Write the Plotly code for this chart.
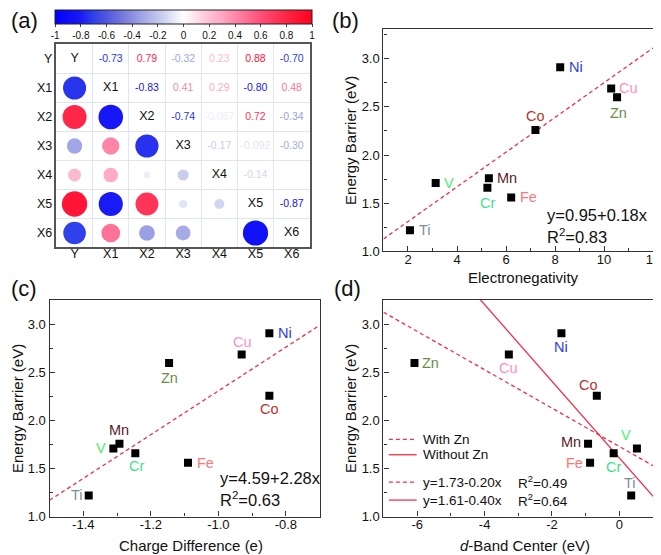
import numpy as np
import plotly.graph_objects as go

# ---------------- data ----------------
corr_labels = ['Y', 'X1', 'X2', 'X3', 'X4', 'X5', 'X6']
corr_Y = [1.00, -0.73, 0.79, -0.32, 0.23, 0.88, -0.70]
corr_X1 = [-0.73, 1.00, -0.83, 0.41, 0.29, -0.80, 0.48]
corr_X2 = [0.79, -0.83, 1.00, -0.74, -0.057, 0.72, -0.34]
corr_X3 = [-0.32, 0.41, -0.74, 1.00, -0.17, -0.092, -0.30]
corr_X4 = [0.23, 0.29, -0.057, -0.17, 1.00, -0.14, 0.0]
corr_X5 = [0.88, -0.80, 0.72, -0.092, -0.14, 1.00, -0.87]
corr_X6 = [-0.70, 0.48, -0.34, -0.30, 0.0, -0.87, 1.00]
colorbar_ticks = [-1, -0.8, -0.6, -0.4, -0.2, 0, 0.2, 0.4, 0.6, 0.8, 1]

elements = ['Ti', 'V', 'Cr', 'Mn', 'Fe', 'Co', 'Ni', 'Cu', 'Zn']
energy_barrier = [1.22, 1.71, 1.66, 1.76, 1.56, 2.26, 2.91, 2.69, 2.60]
electronegativity = [2.08, 3.13, 5.24, 5.30, 6.21, 7.20, 8.21, 10.29, 10.53]
charge_difference = [-1.384, -1.311, -1.246, -1.293, -1.09, -0.849, -0.849, -0.931, -1.146]
d_band_center = [0.35, 0.52, -0.17, -0.93, -0.87, -0.67, -1.72, -3.28, -6.08]

fit_b = (0.95, 0.18, 0.83)
fit_c = (4.59, 2.28, 0.63)
fit_d_with_zn = (1.73, -0.20, 0.49)
fit_d_without_zn = (1.61, -0.40, 0.64)

# ---------------- style ----------------
FONT = 'Liberation Sans, Arial, sans-serif'
W, H = 661, 555
elem_colors = {'Ti': '#7d8b9c', 'V': '#4ced70', 'Cr': '#3fdf8c', 'Mn': '#5a1a2a',
               'Fe': '#f87a7a', 'Co': '#b8342a', 'Ni': '#2b3fe0', 'Cu': '#ff8fc2',
               'Zn': '#6b8c4c'}
colorscale = [[0.0, '#0000ff'], [0.1, '#1a1af5'], [0.15, '#3040ea'], [0.25, '#7070d8'],
              [0.34, '#a0a6e6'], [0.42, '#cdd0ee'], [0.5, '#ffffff'], [0.6, '#ffc0d4'],
              [0.65, '#ffa8c4'], [0.7, '#ff88aa'], [0.8, '#ff5078'], [0.9, '#ff2444'],
              [1.0, '#ff0020']]
red = '#f0304a'
INK = '#111'

# label offsets (px, +x right, +y down)
off_b = {'Ti': (15, 0), 'V': (13, 0), 'Cr': (0, 15), 'Mn': (18, 0), 'Fe': (17, 0),
         'Co': (0, -14), 'Ni': (16, 0), 'Cu': (17, 0), 'Zn': (1, 16)}
off_c = {'Ti': (-12, 0), 'V': (-12, 0), 'Cr': (1, 13), 'Mn': (0, -14), 'Fe': (18, 0),
         'Co': (0, 13), 'Ni': (16, 0), 'Cu': (1, -12), 'Zn': (0, 15)}
off_d = {'Ti': (-1, -12), 'V': (-11, -13), 'Cr': (0, 14), 'Mn': (-17, -2), 'Fe': (-16, 0),
         'Co': (-8, -11), 'Ni': (0, 14), 'Cu': (0, 14), 'Zn': (16, 0)}


def hex2rgb(h):
    h = h.lstrip('#')
    return [int(h[i:i + 2], 16) for i in (0, 2, 4)]


def cmap(v):
    t = (v + 1) / 2
    for (t0, c0), (t1, c1) in zip(colorscale[:-1], colorscale[1:]):
        if t0 <= t <= t1:
            f = (t - t0) / (t1 - t0) if t1 > t0 else 0
            a, b = hex2rgb(c0), hex2rgb(c1)
            return 'rgb(%d,%d,%d)' % tuple(round(a[i] + f * (b[i] - a[i])) for i in range(3))
    return colorscale[-1][1]


def fmt(v):
    s = ('%.3f' % v).rstrip('0')
    if len(s.split('.')[1]) < 2:
        s = '%.2f' % v
    return s


fig = go.Figure()

# ---------------- panel (a) ----------------
corr = [corr_Y, corr_X1, corr_X2, corr_X3, corr_X4, corr_X5, corr_X6]
n = len(corr_labels)
cx, cy, cval, csize = [], [], [], []
tx, ty, tt, tcol = [], [], [], []
dx, dy, dt = [], [], []
for i in range(n):
    for j in range(n):
        v = corr[i][j]
        if i > j:
            cx.append(j); cy.append(i); cval.append(v); csize.append(27 * np.sqrt(abs(v)))
        elif i < j:
            if abs(v) >= 0.02:
                tx.append(j); ty.append(i); tt.append(fmt(v)); tcol.append(cmap(v))
        else:
            dx.append(j); dy.append(i); dt.append(corr_labels[i])

fig.add_trace(go.Scatter(
    x=cx, y=cy, mode='markers', xaxis='x', yaxis='y', showlegend=False, hoverinfo='skip',
    marker=dict(size=csize, color=cval, colorscale=colorscale, cmin=-1, cmax=1,
                opacity=1, line=dict(width=0),
                colorbar=dict(orientation='h', x=177.5 / W, xanchor='center',
                              y=1 - 35 / H, yanchor='bottom', thickness=14,
                              len=257, lenmode='pixels', xpad=0, ypad=0,
                              outlinewidth=1, outlinecolor='#222',
                              tickvals=colorbar_ticks,
                              ticktext=['%g' % t for t in colorbar_ticks],
                              ticklabelposition='outside top', ticks='outside', ticklen=3,
                              tickfont=dict(size=10, family=FONT, color=INK)))))
fig.add_trace(go.Scatter(x=tx, y=ty, text=tt, mode='text', xaxis='x', yaxis='y',
                         showlegend=False, hoverinfo='skip',
                         textfont=dict(size=10.5, family=FONT, color=tcol)))
fig.add_trace(go.Scatter(x=dx, y=dy, text=dt, mode='text', xaxis='x', yaxis='y',
                         showlegend=False, hoverinfo='skip',
                         textfont=dict(size=12.5, family=FONT, color=INK)))


# ---------------- scatter panels ----------------
def add_panel(xv, xa, ya, offs):
    fig.add_trace(go.Scatter(x=xv, y=energy_barrier, mode='markers', xaxis=xa, yaxis=ya,
                             showlegend=False, hoverinfo='skip',
                             marker=dict(symbol='square', size=8, color='black')))
    for e, x, y in zip(elements, xv, energy_barrier):
        ox, oy = offs[e]
        fig.add_annotation(x=x, y=y, xref=xa, yref=ya, text=e, showarrow=False,
                           xshift=ox, yshift=-oy,
                           font=dict(size=14.5, family=FONT, color=elem_colors[e]))


def add_fit(fit, xa, ya, xr, dash):
    a, b = fit[0], fit[1]
    xs = [xr[0], xr[1]]
    fig.add_trace(go.Scatter(x=xs, y=[a + b * x for x in xs], mode='lines', xaxis=xa,
                             yaxis=ya, showlegend=False, hoverinfo='skip',
                             line=dict(color=red, width=1.3, dash=dash)))


xr_b, xr_c, xr_d = [1, 12], [-1.5, -0.7], [-7, 1]
add_fit(fit_b, 'x2', 'y2', xr_b, '4px,3px')
add_fit(fit_c, 'x3', 'y3', xr_c, '4px,3px')
add_fit(fit_d_with_zn, 'x4', 'y4', xr_d, '4px,3px')
add_fit(fit_d_without_zn, 'x4', 'y4', xr_d, 'solid')
add_panel(electronegativity, 'x2', 'y2', off_b)
add_panel(charge_difference, 'x3', 'y3', off_c)
add_panel(d_band_center, 'x4', 'y4', off_d)


# equation annotations
def eq_text(fit, xa, ya, xfrac, y1, y2):
    fig.add_annotation(x=xfrac, y=y1, xref=xa + ' domain', yref=ya + ' domain',
                       text='y=%.2f+%.2fx' % (fit[0], fit[1]), showarrow=False,
                       xanchor='left', yanchor='middle',
                       font=dict(size=16.5, family=FONT, color=INK))
    fig.add_annotation(x=xfrac, y=y2, xref=xa + ' domain', yref=ya + ' domain',
                       text='R<sup>2</sup>=%.2f' % fit[2], showarrow=False,
                       xanchor='left', yanchor='middle',
                       font=dict(size=16.5, family=FONT, color=INK))


eq_text(fit_b, 'x2', 'y2', (543 - 379.5) / 272.5, (247 - 210) / 226, (247 - 231) / 226)
eq_text(fit_c, 'x3', 'y3', (212 - 42) / 273, (516 - 476.7) / 220, (516 - 497.7) / 220)


# legend for panel (d)
def fit_label(fit):
    sign = '-' if fit[1] < 0 else '+'
    return 'y=%.2f%s%.2fx' % (fit[0], sign, abs(fit[1]))


leg_rows = [('With Zn', None, 'dash', 0.356), ('Without Zn', None, 'solid', 0.285),
            (fit_label(fit_d_with_zn), fit_d_with_zn[2], 'dash', 0.159),
            (fit_label(fit_d_without_zn), fit_d_without_zn[2], 'solid', 0.076)]
for label, r2, dsh, yy in leg_rows:
    fig.add_shape(type='line', xref='x4 domain', yref='y4 domain', x0=0.02, x1=0.123,
                  y0=yy, y1=yy, line=dict(color=red, width=1.3,
                                          dash='4px,3px' if dsh == 'dash' else 'solid'))
    fig.add_annotation(x=0.141, y=yy, xref='x4 domain', yref='y4 domain', text=label,
                       showarrow=False, xanchor='left', yanchor='middle',
                       font=dict(size=13.5, family=FONT, color=INK))
    if r2 is not None:
        fig.add_annotation(x=(513 - 379.5) / 272.5, y=yy, xref='x4 domain', yref='y4 domain',
                           text='R<sup>2</sup>=%.2f' % r2, showarrow=False,
                           xanchor='left', yanchor='middle',
                           font=dict(size=13.5, family=FONT, color=INK))

# panel letters
for lab, px, py in [('(a)', 1, 13), ('(b)', 325, 13), ('(c)', 1, 285), ('(d)', 327, 285)]:
    fig.add_annotation(x=px / W, y=1 - py / H, xref='paper', yref='paper', text=lab,
                       showarrow=False, xanchor='left', yanchor='middle',
                       font=dict(size=22, family=FONT, color=INK))

# axis titles (placed as paper annotations)
titles = [('Energy Barrier (eV)', 345.5, (21 + 247) / 2, -90),
          ('Energy Barrier (eV)', 9, (296 + 516) / 2, -90),
          ('Energy Barrier (eV)', 345.5, (296 + 516) / 2, -90),
          ('Electronegativity', 521.5, 273.5, 0),
          ('Charge Difference (e)', 184.5, 545, 0),
          ('<i>d</i>-Band Center (eV)', 522.5, 545, 0)]
for txt, px, py, ang in titles:
    fig.add_annotation(x=px / W, y=1 - py / H, xref='paper', yref='paper', text=txt,
                       showarrow=False, xanchor='center', yanchor='middle', textangle=ang,
                       font=dict(size=15, family=FONT, color=INK))


# ---------------- axes ----------------
def ticktext(vals, f):
    return [(f % v) for v in vals]


axis_common = dict(showline=True, mirror=True, linecolor='#333', linewidth=1.3,
                   ticks='inside', ticklen=5, tickcolor='#333', tickwidth=1,
                   showgrid=False, zeroline=False,
                   tickfont=dict(size=13, family=FONT, color=INK))
minor_x = dict(ticks='inside', ticklen=3, tickcolor='#333')
minor_y = dict(dtick=0.25, tick0=0, ticks='inside', ticklen=3, tickcolor='#333')
yb_vals = [1.0, 1.5, 2.0, 2.5, 3.0]
cell_minor = dict(tickvals=[k + 0.5 for k in range(n - 1)], showgrid=True,
                  gridcolor='#dfe6f2', gridwidth=1, ticks='')

xdom_right = [379.5 / W, 652 / W]
layout = dict(
    width=W, height=H, margin=dict(l=0, r=0, t=0, b=0),
    paper_bgcolor='white', plot_bgcolor='white', showlegend=False,
    xaxis=dict(domain=[49 / W, 305 / W], range=[-0.5, 6.5], tickvals=list(range(n)),
               ticktext=corr_labels, showline=True, mirror=True, linecolor='#555',
               linewidth=1.5, ticks='', showgrid=False, zeroline=False, minor=cell_minor,
               ticklabelstandoff=-6,
               tickfont=dict(size=12.5, family=FONT, color=INK), anchor='y'),
    yaxis=dict(domain=[1 - 243 / H, 1 - 37 / H], range=[6.5, -0.5], tickvals=list(range(n)),
               ticktext=corr_labels, showline=True, mirror=True, linecolor='#555',
               linewidth=1.5, ticks='', showgrid=False, zeroline=False, minor=cell_minor,
               tickfont=dict(size=12.5, family=FONT, color=INK), anchor='x'),
    xaxis2=dict(axis_common, domain=xdom_right, range=xr_b, anchor='y2', ticklabelstandoff=-4,
                tickvals=[2, 4, 6, 8, 10, 12], ticktext=ticktext([2, 4, 6, 8, 10, 12], '%d'),
                minor=dict(minor_x, dtick=1, tick0=0)),
    yaxis2=dict(axis_common, domain=[1 - 247 / H, 1 - 21 / H], range=[1.0, 3.31], anchor='x2',
                tickvals=yb_vals, ticktext=ticktext(yb_vals, '%.1f'), minor=minor_y),
    xaxis3=dict(axis_common, domain=[42 / W, 315 / W], range=xr_c, anchor='y3',
                ticklabelstandoff=-4, tickvals=[-1.4, -1.2, -1.0, -0.8],
                ticktext=ticktext([-1.4, -1.2, -1.0, -0.8], '%.1f'),
                minor=dict(minor_x, dtick=0.1, tick0=0)),
    yaxis3=dict(axis_common, domain=[1 - 516 / H, 1 - 296 / H], range=[1.0, 3.26], anchor='x3',
                tickvals=yb_vals, ticktext=ticktext(yb_vals, '%.1f'), minor=minor_y),
    xaxis4=dict(axis_common, domain=xdom_right, range=xr_d, anchor='y4', ticklabelstandoff=-4,
                tickvals=[-6, -4, -2, 0], ticktext=ticktext([-6, -4, -2, 0], '%d'),
                minor=dict(minor_x, dtick=1, tick0=0)),
    yaxis4=dict(axis_common, domain=[1 - 516 / H, 1 - 296 / H], range=[1.0, 3.26], anchor='x4',
                tickvals=yb_vals, ticktext=ticktext(yb_vals, '%.1f'), minor=minor_y),
)
fig.update_layout(**layout)
fig.write_html('out.html')
